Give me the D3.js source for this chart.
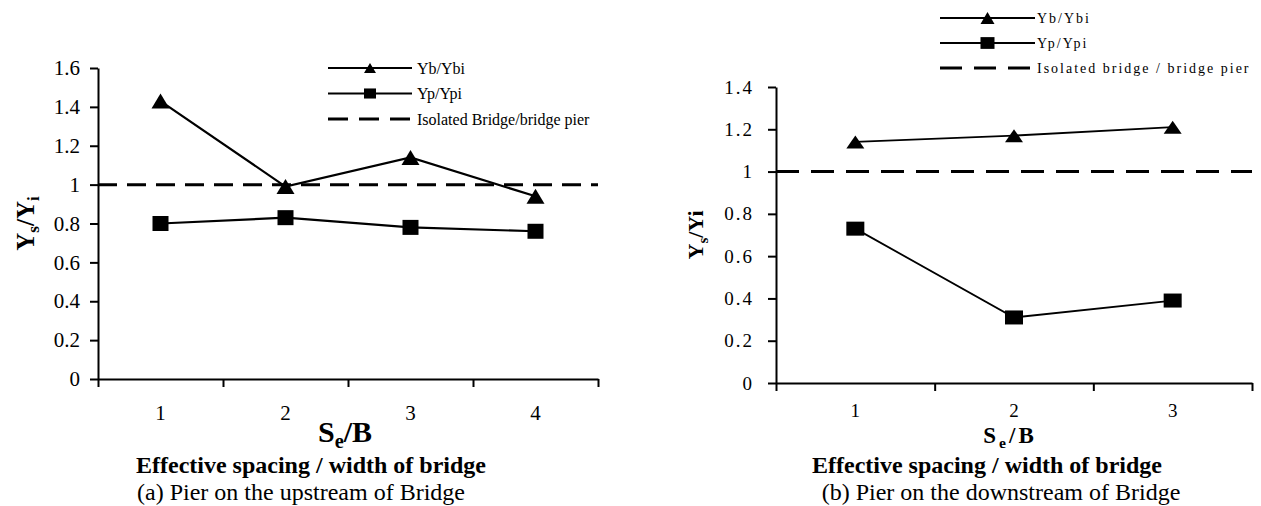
<!DOCTYPE html>
<html><head><meta charset="utf-8">
<script src="https://cdn.jsdelivr.net/npm/d3@7"></script>
<style>
body{margin:0;background:#fff}
svg{display:block}
text{font-family:"Liberation Serif","Times New Roman","DejaVu Serif",serif;fill:#000}
</style>
</head><body>
<svg id="c" width="1261" height="506"></svg>
<script>
// ---- data ----
const catsA = [1, 2, 3, 4];
const ybA = [1.43, 0.99, 1.14, 0.94];
const ypA = [0.80, 0.83, 0.78, 0.76];
const yTicksA = [0, 0.2, 0.4, 0.6, 0.8, 1, 1.2, 1.4, 1.6];
const legendA = ["Yb/Ybi", "Yp/Ypi", "Isolated Bridge/bridge pier"];

const catsB = [1, 2, 3];
const ybB = [1.14, 1.17, 1.21];
const ypB = [0.73, 0.31, 0.39];
const yTicksB = [0, 0.2, 0.4, 0.6, 0.8, 1, 1.2, 1.4];
const legendB = ["Yb/Ybi", "Yp/Ypi", "Isolated bridge / bridge pier"];

const isolatedRatio = 1;

const FONT = '"Liberation Serif","Times New Roman",serif';
const svg = d3.select("#c");
const fmt = d => String(+d.toFixed(1));

function triPath(cx, cy, w, h) {
  const p = d3.path();
  p.moveTo(cx, cy - h / 2);
  p.lineTo(cx + w / 2, cy + h / 2);
  p.lineTo(cx - w / 2, cy + h / 2);
  p.closePath();
  return p.toString();
}

// parts: [text, isSub]
function richText(sel, parts, subDy) {
  let shifted = false;
  parts.forEach(([s, sub]) => {
    const t = sel.append("tspan").text(s);
    if (sub) {
      t.attr("dy", subDy + "em").style("font-size", "0.68em");
      shifted = true;
    } else if (shifted) {
      // undo the subscript shift (em of the parent size)
      t.attr("dy", (-subDy * 0.68) + "em");
      shifted = false;
    }
  });
}

function panel(cfg) {
  const g = svg.append("g");
  const x = d3.scaleBand().domain(cfg.cats).range(cfg.xr).padding(0);
  const xe = d3.scaleLinear().domain([0.5, cfg.cats.length + 0.5]).range(cfg.xr);
  const y = d3.scaleLinear().domain(cfg.yd).range(cfg.yr);
  const cx = d => x(d) + x.bandwidth() / 2;

  // y axis
  const ya = g.append("g").attr("transform", `translate(${cfg.xr[0]},0)`)
    .call(d3.axisLeft(y).tickValues(cfg.yticks).tickFormat(fmt)
      .tickSize(8).tickSizeOuter(0).tickPadding(cfg.ypad));
  ya.attr("font-family", FONT);
  ya.selectAll("path,line").attr("stroke", "#000").attr("stroke-width", 2);
  ya.selectAll("text").style("font-size", cfg.tickFs + "px")
    .style("letter-spacing", cfg.ls + "px").style("font-family", FONT);

  // x axis (ticks at category edges)
  const xa = g.append("g").attr("transform", `translate(0,${cfg.yr[0]})`)
    .call(d3.axisBottom(xe).tickValues(d3.range(0.5, cfg.cats.length + 1, 1))
      .tickFormat("").tickSize(8).tickSizeOuter(0));
  xa.selectAll("text").remove();
  xa.selectAll("path,line").attr("stroke", "#000").attr("stroke-width", 2);
  xa.select(".domain").attr("stroke-width", 2.2);
  // x labels at category centres
  const xl = g.append("g").attr("transform", `translate(0,${cfg.yr[0]})`)
    .call(d3.axisBottom(x).tickSize(0).tickPadding(cfg.xpad));
  xl.attr("font-family", FONT);
  xl.select(".domain").remove();
  xl.selectAll("text").style("font-size", cfg.tickFs + "px").style("font-family", FONT);

  // isolated reference line
  g.append("line")
    .attr("x1", cfg.xr[0]).attr("x2", cfg.xr[1])
    .attr("y1", y(isolatedRatio)).attr("y2", y(isolatedRatio))
    .attr("stroke", "#000").attr("stroke-width", 3).attr("stroke-dasharray", cfg.dash);

  const line = d3.line().x((d, i) => cx(cfg.cats[i])).y(d => y(d));
  [cfg.yb, cfg.yp].forEach(s => {
    g.append("path").attr("d", line(s)).attr("fill", "none")
      .attr("stroke", "#000").attr("stroke-width", cfg.lw);
  });
  g.selectAll(null).data(cfg.yb).join("path")
    .attr("d", (d, i) => triPath(cx(cfg.cats[i]), y(d), cfg.triW, cfg.triH))
    .attr("fill", "#000");
  g.selectAll(null).data(cfg.yp).join("rect")
    .attr("x", (d, i) => cx(cfg.cats[i]) - cfg.sqW / 2)
    .attr("y", d => y(d) - cfg.sqH / 2)
    .attr("width", cfg.sqW).attr("height", cfg.sqH).attr("fill", "#000");

  // legend
  const L = cfg.leg;
  cfg.legend.forEach((t, i) => {
    const ly = L.y0 + i * L.dy;
    const ln = g.append("line").attr("x1", L.x1).attr("x2", L.x2)
      .attr("y1", ly).attr("y2", ly).attr("stroke", "#000");
    if (i < 2) {
      ln.attr("stroke-width", 2);
      const mx = (L.x1 + L.x2) / 2;
      if (i === 0) g.append("path").attr("d", triPath(mx, ly, L.m, L.m * 0.85)).attr("fill", "#000");
      else g.append("rect").attr("x", mx - L.m / 2).attr("y", ly - L.m * 0.42)
        .attr("width", L.m).attr("height", L.m * 0.84).attr("fill", "#000");
    } else {
      ln.attr("stroke-width", 3).attr("stroke-dasharray", L.dash);
    }
    g.append("text").attr("x", L.tx).attr("y", ly + L.fs * 0.35)
      .style("font-size", L.fs + "px").style("letter-spacing", L.ls + "px").text(t);
  });

  // y title
  const yt = g.append("text")
    .attr("transform", `translate(${cfg.ytx},${(cfg.yr[0] + cfg.yr[1]) / 2}) rotate(-90)`)
    .attr("text-anchor", "middle").style("font-weight", "bold").style("font-size", cfg.ytFs + "px");
  richText(yt, cfg.ytitle, 0.3);

  // x title
  const xt = g.append("text").attr("x", cfg.xtX).attr("y", cfg.xtY)
    .attr("text-anchor", "middle").style("font-weight", "bold")
    .style("font-size", cfg.xtFs + "px").style("letter-spacing", cfg.xtLs + "px");
  richText(xt, [["S"], ["e", 1], ["/B"]], 0.3);

  g.append("text").attr("x", cfg.c1X).attr("y", 473).attr("text-anchor", "middle")
    .style("font-weight", "bold").style("font-size", "24px").text("Effective spacing / width of bridge");
  g.append("text").attr("x", cfg.c2X).attr("y", 500).attr("text-anchor", "middle")
    .style("font-size", "24px").text(cfg.caption);
}

panel({
  cats: catsA, yb: ybA, yp: ypA, yticks: yTicksA, legend: legendA,
  xr: [98, 598], yr: [379, 68], yd: [0, 1.6],
  tickFs: 21, ls: 0, ypad: 10, xpad: 26, dash: "19,10", lw: 2.2,
  triW: 18, triH: 15, sqW: 16, sqH: 15,
  leg: { x1: 328, x2: 412, tx: 417, y0: 68, dy: 25.5, fs: 16, ls: 0, m: 12, dash: "20,11" },
  ytitle: [["Y"], ["s", 1], ["/Y"], ["i", 1]], ytx: 34, ytFs: 25,
  xtX: 345, xtY: 442, xtFs: 30, xtLs: 0,
  c1X: 311, c2X: 301, caption: "(a) Pier on the upstream of Bridge"
});

panel({
  cats: catsB, yb: ybB, yp: ypB, yticks: yTicksB, legend: legendB,
  xr: [776, 1252], yr: [383, 87], yd: [0, 1.4],
  tickFs: 19, ls: 2, ypad: 14, xpad: 21, dash: "23,12", lw: 1.8,
  triW: 18, triH: 13, sqW: 18, sqH: 14,
  leg: { x1: 940, x2: 1035, tx: 1037, y0: 18, dy: 25, fs: 14, ls: 2, m: 14, dash: "22,12" },
  ytitle: [["Y"], ["s", 1], ["/Yi"]], ytx: 703, ytFs: 22,
  xtX: 1010, xtY: 443, xtFs: 23, xtLs: 3,
  c1X: 987, c2X: 1001, caption: "(b) Pier on the downstream of Bridge"
});
</script>
</body></html>
